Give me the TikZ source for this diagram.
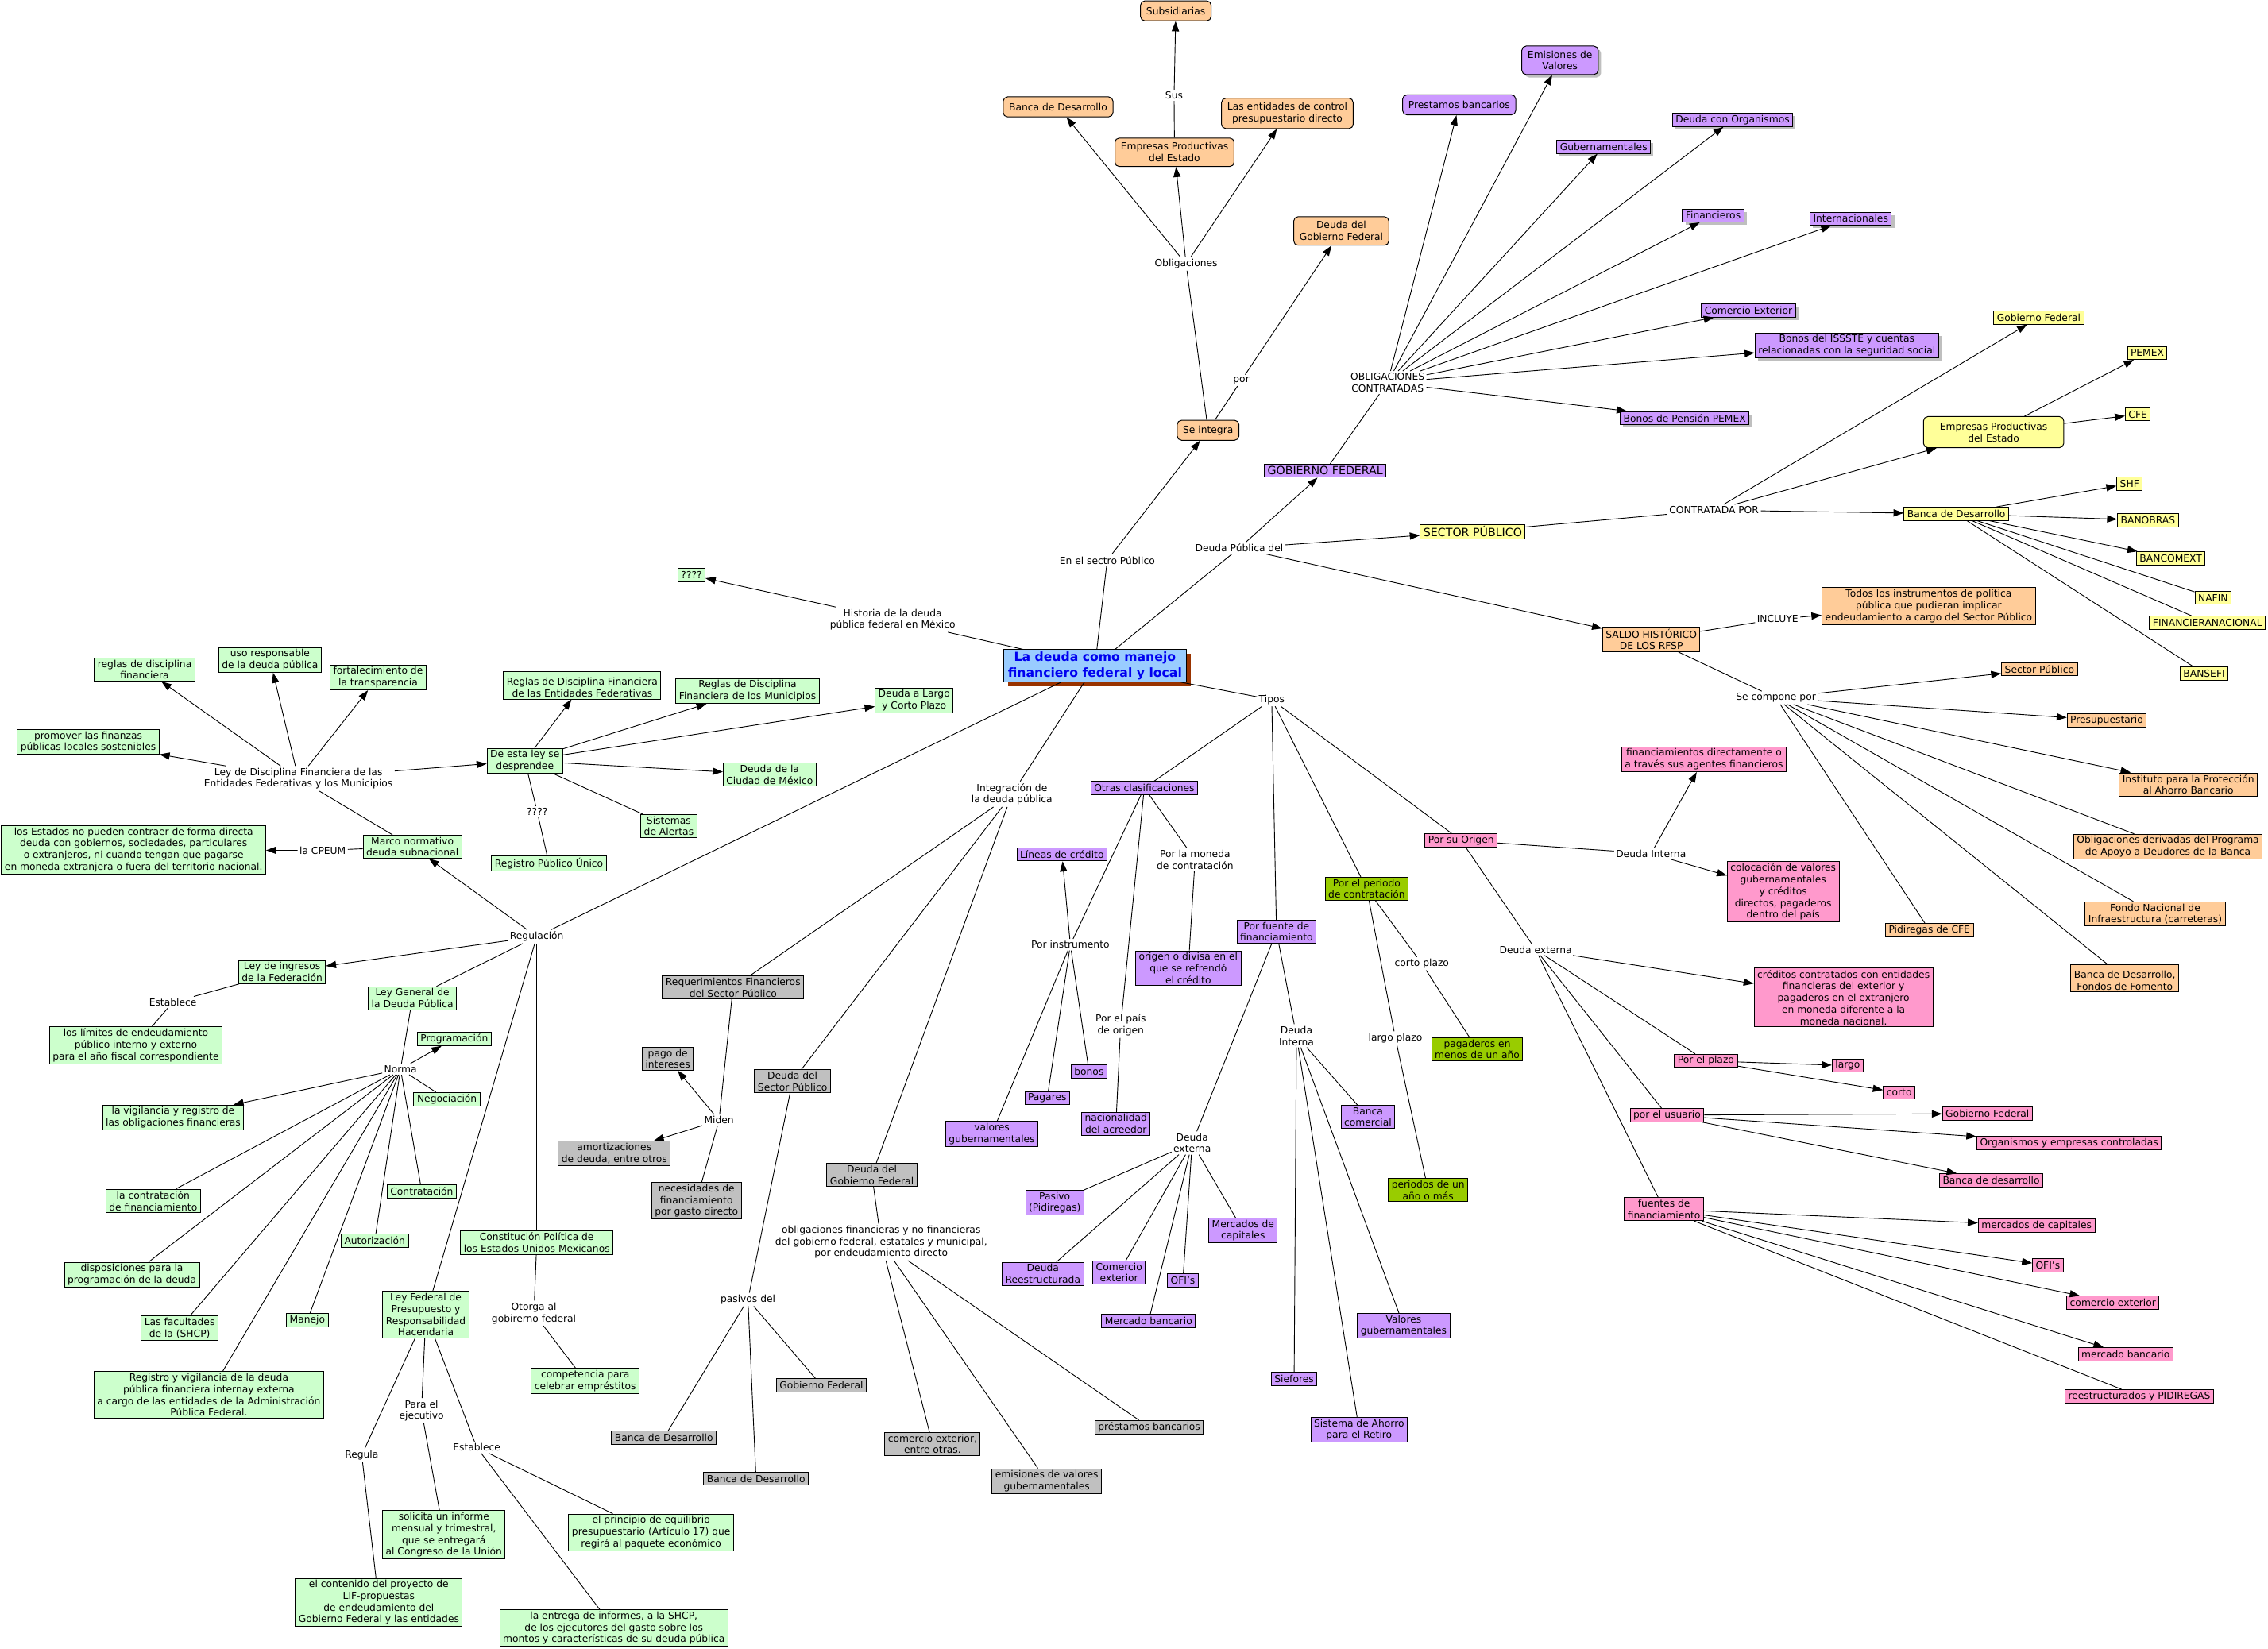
\documentclass[tikz,border=0pt]{standalone}
\usepackage{fontspec}
\setmainfont{DejaVu Sans}
\usetikzlibrary{arrows.meta,shadows}
\definecolor{corange}{RGB}{255,204,153}
\definecolor{cpurple}{RGB}{204,153,255}
\definecolor{cgreen}{RGB}{204,255,204}
\definecolor{cyellow}{RGB}{255,255,153}
\definecolor{cpink}{RGB}{255,153,204}
\definecolor{cgray}{RGB}{192,192,192}
\definecolor{colive}{RGB}{153,204,0}
\definecolor{cmain}{RGB}{153,204,255}
\definecolor{cblue}{RGB}{0,0,240}
\definecolor{cbrown}{RGB}{153,51,0}
\newcommand\myfs{\fontsize{6.75}{8.1}\selectfont}
\newcommand\mybig{\fontsize{7.8}{9.5}\selectfont}
\begin{document}
\begin{tikzpicture}[x=1pt,y=-1pt,
  box/.style={draw=black, line width=0.55pt, align=center, font=\myfs, inner xsep=2.2pt, inner ysep=1.3pt, minimum height=9pt},
  rbox/.style={box, rounded corners=3pt, inner xsep=4pt, inner ysep=3.2pt, minimum height=13.8pt},
  org/.style={box, fill=corange}, orr/.style={rbox, fill=corange},
  pur/.style={box, fill=cpurple}, purr/.style={rbox, fill=cpurple},
  gsh/.style={drop shadow={shadow xshift=2pt, shadow yshift=-2pt, fill=black!25, opacity=1}},
  grn/.style={box, fill=cgreen}, yel/.style={box, fill=cyellow},
  pnk/.style={box, fill=cpink}, gry/.style={box, fill=cgray}, olv/.style={box, fill=colive},
  lab/.style={align=center, font=\myfs, inner sep=1.2pt},
  ln/.style={line width=0.5pt},
  arr/.style={line width=0.5pt, -{Triangle[length=7pt,width=5pt]}}]
\useasboundingbox (0,0) rectangle (1568,1140);
\fill[white] (0,0) rectangle (1568,1140);

% ---------- top orange cluster ----------
\node[orr] (subs) at (812.9,7.5) {Subsidiarias};
\node[orr] (bancadT) at (731.5,73.9) {Banca de Desarrollo};
\node[orr] (empT) at (812,105.3) {Empresas Productivas\\del Estado};
\node[orr] (entT) at (890,78.4) {Las entidades de control\\presupuestario directo};
\node[orr] (dgfT) at (927.3,159.7) {Deuda del\\Gobierno Federal};
\node[orr] (seint) at (835.2,297.5) {Se integra};
\node[lab] (lSus) at (811.7,65.9) {Sus};
\node[lab] (lObl) at (820,182.5) {Obligaciones};
\node[lab] (lpor) at (858.2,263) {por};
\node[lab] (lSect) at (765.5,387.3) {En el sectro Público};
\node[lab] (lDPd) at (856.7,379) {Deuda Pública del};

% ---------- purple gobierno federal cluster ----------
\node[lab] (lOC) at (959.3,264.5) {OBLIGACIONES\\CONTRATADAS};
\node[purr,gsh] (emis) at (1078.5,41.7) {Emisiones de\\Valores};
\node[purr] (prest) at (1008.8,72.5) {Prestamos bancarios};
\node[pur,gsh] (gubs) at (1108.7,101.6) {Gubernamentales};
\node[pur,gsh] (dorg) at (1197.8,82.9) {Deuda con Organismos};
\node[pur,gsh] (fins) at (1184.4,149) {Financieros};
\node[pur,gsh] (ints) at (1279.5,151.2) {Internacionales};
\node[pur,gsh] (comx) at (1208.8,214.7) {Comercio Exterior};
\node[pur,gsh] (issste) at (1276.8,238.8) {Bonos del ISSSTE y cuentas\\relacionadas con la seguridad social};
\node[pur,gsh] (pemexb) at (1164.7,289) {Bonos de Pensión PEMEX};
\node[pur,font=\mybig] (gobfed) at (916.2,325.5) {GOBIERNO FEDERAL};

% ---------- yellow sector publico ----------
\node[yel,font=\mybig] (secpub) at (1018.2,367.6) {SECTOR PÚBLICO};
\node[lab] (lCP) at (1185,352.7) {CONTRATADA POR};
\node[yel] (ygf) at (1409.5,219.6) {Gobierno Federal};
\node[rbox,fill=cyellow,minimum width=97pt,minimum height=21.5pt] (yemp) at (1378.3,298.8) {Empresas Productivas\\del Estado};
\node[yel] (pemex) at (1484.5,244) {PEMEX};
\node[yel] (cfe) at (1478,286.5) {CFE};
\node[yel] (ybd) at (1352.5,355.3) {Banca de Desarrollo};
\node[yel] (shf) at (1472.3,334.4) {SHF};
\node[yel] (banobras) at (1485,359.7) {BANOBRAS};
\node[yel] (bancomext) at (1500.8,386) {BANCOMEXT};
\node[yel] (nafin) at (1530,413.4) {NAFIN};
\node[yel, anchor=east] (finan) at (1566.4,430.5) {FINANCIERANACIONAL};
\node[yel] (bansefi) at (1523.8,465.7) {BANSEFI};

% ---------- saldo historico ----------
\node[org] (saldo) at (1141.6,442) {SALDO HISTÓRICO\\DE LOS RFSP};
\node[org] (todos) at (1333.4,419) {Todos los instrumentos de política\\pública que pudieran implicar\\endeudamiento a cargo del Sector Público};
\node[lab] (lINC) at (1229,428) {INCLUYE};
\node[lab] (lSCP) at (1227.8,482.5) {Se compone por};
\node[org] (osp) at (1410,462.8) {Sector Público};
\node[org] (opres) at (1456.5,498) {Presupuestario};
\node[org] (oipab) at (1512.9,542.5) {Instituto para la Protección\\al Ahorro Bancario};
\node[org] (oobl) at (1498.8,585.4) {Obligaciones derivadas del Programa\\de Apoyo a Deudores de la Banca};
\node[org] (ofon) at (1490,631.9) {Fondo Nacional de\\Infraestructura (carreteras)};
\node[org] (obd) at (1469,676.4) {~\\Banca de Desarrollo,\\Fondos de Fomento};
\node[org] (opid) at (1333.9,643) {Pidiregas de CFE};

% ---------- main ----------
\node[box, fill=cmain, text=cblue, font=\fontsize{8.6}{10.6}\selectfont\bfseries, inner xsep=3pt, inner ysep=1.6pt,
  drop shadow={shadow xshift=3pt, shadow yshift=-3pt, fill=cbrown, opacity=1}] (main) at (757,460.3) {La deuda como manejo\\financiero federal y local};

% ---------- historia ----------
\node[grn] (q4) at (478.1,397.7) {????};
\node[lab] (lHist) at (617.1,428.4) {Historia de la deuda\\pública federal en México};

% ---------- green regulation cluster ----------
\node[grn] (rdf) at (100,463) {reglas de disciplina\\financiera};
\node[grn] (uso) at (186.7,456.3) {uso responsable\\de la deuda pública};
\node[grn] (fort) at (261.4,468.4) {fortalecimiento de\\la transparencia};
\node[grn] (prom) at (61,513) {promover las finanzas\\públicas locales sostenibles};
\node[lab] (lLDF) at (206.3,538.3) {Ley de Disciplina Financiera de las\\Entidades Federativas y los Municipios};
\node[grn] (desp) at (362.9,526) {De esta ley se\\desprendee};
\node[grn] (rdef) at (402.5,473.9) {~\\Reglas de Disciplina Financiera\\de las Entidades Federativas};
\node[grn] (rdfm) at (516.8,477.7) {Reglas de Disciplina\\Financiera de los Municipios};
\node[grn] (dlcp) at (632,484.3) {Deuda a Largo\\y Corto Plazo};
\node[grn] (dcdmx) at (532.1,535.5) {Deuda de la\\Ciudad de México};
\node[grn] (salert) at (462.4,571.1) {Sistemas\\de Alertas};
\node[lab] (lq) at (371.4,561.3) {????};
\node[grn] (rpu) at (379.5,597) {Registro Público Único};
\node[grn, anchor=west] (estados) at (0.8,587.6) {los Estados no pueden contraer de forma directa\\deuda con gobiernos, sociedades, particulares\\o extranjeros, ni cuando tengan que pagarse\\en moneda extranjera o fuera del territorio nacional.};
\node[lab] (lCPEUM) at (223.1,588) {la CPEUM};
\node[grn] (marco) at (285.1,585.4) {Marco normativo\\deuda subnacional};
\node[lab] (lReg) at (371.1,647.6) {Regulación};
\node[grn] (ling) at (195,672.1) {Ley de ingresos\\de la Federación};
\node[lab] (lEst1) at (119.5,693) {Establece};
\node[grn] (limites) at (93.9,722.7) {los límites de endeudamiento\\público interno y externo\\para el año fiscal correspondiente};
\node[grn] (lgdp) at (285.1,690.2) {Ley General de\\la Deuda Pública};
\node[grn] (prog) at (314.1,718.2) {Programación};
\node[lab] (lNorma) at (276.9,739.2) {Norma};
\node[grn] (nego) at (309,760.1) {Negociación};
\node[grn] (vigil) at (119.7,772.7) {la vigilancia y registro de\\las obligaciones financieras};
\node[grn] (lcontr) at (105.9,830.4) {la contratación\\de financiamiento};
\node[grn] (contr) at (291.6,823.8) {Contratación};
\node[grn] (dispo) at (91.2,881.4) {disposiciones para la\\programación de la deuda};
\node[grn] (autor) at (259.1,857.9) {Autorización};
\node[grn] (const) at (371.1,859.1) {Constitución Política de\\los Estados Unidos Mexicanos};
\node[grn] (facul) at (124.2,918.2) {Las facultades\\de la (SHCP)};
\node[grn] (manejo) at (212.5,912.9) {Manejo};
\node[grn] (lfp) at (294.4,909) {Ley Federal de\\Presupuesto y\\Responsabilidad\\Hacendaria};
\node[lab] (lOtorga) at (369.1,908) {Otorga al\\gobirerno federal};
\node[grn] (compet) at (404.6,954.7) {competencia para\\celebrar empréstitos};
\node[grn] (regvig) at (144.4,964.5) {Registro y vigilancia de la deuda\\pública financiera internay externa\\a cargo de las entidades de la Administración\\Pública Federal.};
\node[lab] (lPara) at (291.4,975.4) {Para el\\ejecutivo};
\node[lab] (lRegula) at (250.1,1006.1) {Regula};
\node[lab] (lEst2) at (329.6,1000.8) {Establece};
\node[grn] (solic) at (306.9,1061.3) {solicita un informe\\mensual y trimestral,\\que se entregará\\al Congreso de la Unión};
\node[grn] (conten) at (261.9,1108) {el contenido del proyecto de\\LIF-propuestas\\de endeudamiento del\\Gobierno Federal y las entidades};
\node[grn] (princ) at (450.2,1059.5) {el principio de equilibrio\\presupuestario (Artículo 17) que\\regirá al paquete económico};
\node[grn] (entrega) at (424.4,1125.7) {la entrega de informes, a la SHCP,\\de los ejecutores del gasto sobre los\\montos y características de su deuda pública};

% ---------- gray integration cluster ----------
\node[lab] (lInteg) at (699.6,549.1) {Integración de\\la deuda pública};
\node[gry] (rfsp) at (506.8,682.7) {Requerimientos Financieros\\del Sector Público};
\node[gry] (pagoi) at (461.7,732) {pago de\\intereses};
\node[gry] (dsp) at (547.9,747.5) {Deuda del\\Sector Público};
\node[lab] (lMiden) at (497.1,774.6) {Miden};
\node[gry] (amort) at (424.7,797.4) {amortizaciones\\de deuda, entre otros};
\node[gry] (neces) at (481.5,830.3) {necesidades de\\financiamiento\\por gasto directo};
\node[gry] (dgfg) at (602.8,812.4) {Deuda del\\Gobierno Federal};
\node[lab] (lObF) at (609.2,858.8) {obligaciones financieras y no financieras\\del gobierno federal, estatales y municipal,\\por endeudamiento directo};
\node[lab] (lPas) at (517.1,898.5) {pasivos del};
\node[gry] (ggf) at (567.8,957.8) {Gobierno Federal};
\node[gry] (gbd1) at (459,994.1) {Banca de Desarrollo};
\node[gry] (gbd2) at (522.7,1022.5) {Banca de Desarrollo};
\node[gry] (gcomx) at (644.7,998.4) {comercio exterior,\\entre otras.};
\node[gry] (gemis) at (723.7,1024.1) {emisiones de valores\\gubernamentales};
\node[gry] (gprest) at (794.5,986.8) {préstamos bancarios};

% ---------- tipos ----------
\node[lab] (lTipos) at (879.2,483.7) {Tipos};
\node[pur] (otras) at (791.1,544.8) {Otras clasificaciones};
\node[lab] (lPM) at (826.2,594.3) {Por la moneda\\de contratación};
\node[pur] (origen) at (821.5,669.5) {origen o divisa en el\\que se refrendó\\el crédito};
\node[pur] (lineas) at (734.2,590.8) {Líneas de crédito};
\node[lab] (lPI) at (740,653.2) {Por instrumento};
\node[lab] (lPP) at (774.8,708.8) {Por el país\\de origen};
\node[pur] (bonos) at (752.9,740.8) {bonos};
\node[pur] (pagares) at (724,759.3) {Pagares};
\node[pur] (valg) at (685.7,784) {valores\\gubernamentales};
\node[pur] (nacio) at (771.5,777) {nacionalidad\\del acreedor};
\node[pur] (pfuente) at (882.5,644.2) {Por fuente de\\financiamiento};
\node[lab] (lDIm) at (896.3,716.2) {Deuda\\Interna};
\node[lab] (lDEm) at (824.2,790.3) {Deuda\\externa};
\node[pur] (pasivo) at (729.2,831.5) {Pasivo\\(Pidiregas)};
\node[pur] (dreest) at (721,880.8) {Deuda\\Reestructurada};
\node[pur] (pcomx) at (773.7,879.8) {Comercio\\exterior};
\node[pur] (ofis) at (817.8,885.3) {OFI’s};
\node[pur] (mcap) at (859.4,850.8) {Mercados de\\capitales};
\node[pur] (mban) at (794.1,913.4) {Mercado bancario};
\node[pur] (bcom) at (945.7,772.2) {Banca\\comercial};
\node[pur] (valG) at (970.4,916.7) {Valores\\gubernamentales};
\node[pur] (sief) at (894.7,953.4) {Siefores};
\node[pur] (sar) at (939.6,988.6) {Sistema de Ahorro\\para el Retiro};
\node[olv] (pper) at (944.9,614.5) {Por el periodo\\de contratación};
\node[lab] (lcp) at (983,666.3) {corto plazo};
\node[lab] (llp) at (964.7,717.7) {largo plazo};
\node[olv] (pagad) at (1021.3,725.5) {pagaderos en\\menos de un año};
\node[olv] (perio) at (987.3,822.8) {periodos de un\\año o más};

% ---------- pink origen ----------
\node[pnk] (origenP) at (1010.1,581.1) {Por su Origen};
\node[lab] (lDIr) at (1141.4,590.2) {Deuda Interna};
\node[lab] (lDEr) at (1061.7,656.6) {Deuda externa};
\node[pnk] (finan2) at (1178,525) {financiamientos directamente o\\a través sus agentes financieros};
\node[pnk] (coloc) at (1232.8,616.6) {colocación de valores\\gubernamentales\\y créditos\\directos, pagaderos\\dentro del país};
\node[pnk] (creds) at (1274.5,689.7) {créditos contratados con entidades\\financieras del exterior y\\pagaderos en el extranjero\\en moneda diferente a la\\moneda nacional.};
\node[pnk] (pplazo) at (1179.4,733.5) {Por el plazo};
\node[pnk] (largo) at (1277.4,736.8) {largo};
\node[pnk] (corto) at (1313,755.5) {corto};
\node[pnk] (pusu) at (1152.5,771) {por el usuario};
\node[pnk] (pgf) at (1374,770) {Gobierno Federal};
\node[pnk] (porg) at (1430.5,790.3) {Organismos y empresas controladas};
\node[pnk] (pbd) at (1376.6,816.1) {Banca de desarrollo};
\node[pnk] (pfuen) at (1150.4,836) {fuentes de\\financiamiento};
\node[pnk] (pmc) at (1408,847.3) {mercados de capitales};
\node[pnk] (pofi) at (1415.8,874.9) {OFI’s};
\node[pnk] (pce) at (1460.8,900.7) {comercio exterior};
\node[pnk] (pmb) at (1469.5,936.3) {mercado bancario};
\node[pnk] (preest) at (1479,965.4) {reestructurados y PIDIREGAS};

% ================= connectors =================
\draw[ln] (main) -- (lSect); \draw[arr] (lSect) -- (seint);
\draw[ln] (seint) -- (lObl);
\draw[arr] (lObl) -- (bancadT); \draw[arr] (lObl) -- (empT); \draw[arr] (lObl) -- (entT);
\draw[ln] (empT) -- (lSus); \draw[arr] (lSus) -- (subs);
\draw[ln] (seint) -- (lpor); \draw[arr] (lpor) -- (dgfT);
\draw[ln] (main) -- (lDPd);
\draw[arr] (lDPd) -- (gobfed); \draw[arr] (lDPd) -- (secpub); \draw[arr] (lDPd) -- (saldo);
\draw[ln] (gobfed) -- (lOC);
\foreach \t in {prest,emis,gubs,dorg,fins,ints,comx,issste,pemexb} \draw[arr] (lOC) -- (\t);
\draw[ln] (secpub) -- (lCP);
\foreach \t in {ygf,yemp,ybd} \draw[arr] (lCP) -- (\t);
\draw[arr] (yemp) -- (pemex); \draw[arr] (yemp) -- (cfe);
\foreach \t in {shf,banobras,bancomext} \draw[arr] (ybd) -- (\t);
\foreach \t in {nafin,finan,bansefi} \draw[ln] (ybd) -- (\t);
\draw[ln] (saldo) -- (lINC); \draw[arr] (lINC) -- (todos);
\draw[ln] (saldo) -- (lSCP);
\foreach \t in {osp,opres,oipab} \draw[arr] (lSCP) -- (\t);
\foreach \t in {oobl,ofon,obd,opid} \draw[ln] (lSCP) -- (\t);

\draw[ln] (main) -- (lHist); \draw[arr] (lHist) -- (q4);
\draw[ln] (main) -- (lReg);
\draw[arr] (lReg) -- (marco); \draw[arr] (lReg) -- (ling);
\foreach \t in {lgdp,lfp,const} \draw[ln] (lReg) -- (\t);
\draw[ln] (marco) -- (lLDF);
\foreach \t in {rdf,uso,fort,prom,desp} \draw[arr] (lLDF) -- (\t);
\draw[ln] (marco) -- (lCPEUM); \draw[arr] (lCPEUM) -- (estados);
\foreach \t in {rdef,rdfm,dlcp,dcdmx} \draw[arr] (desp) -- (\t);
\draw[ln] (desp) -- (salert); \draw[ln] (desp) -- (lq); \draw[ln] (lq) -- (rpu);
\draw[ln] (ling) -- (lEst1); \draw[ln] (lEst1) -- (limites);
\draw[ln] (lgdp) -- (lNorma);
\draw[arr] (lNorma) -- (prog); \draw[arr] (lNorma) -- (vigil);
\foreach \t in {nego,lcontr,contr,dispo,autor,facul,manejo,regvig} \draw[ln] (lNorma) -- (\t);
\draw[ln] (const) -- (lOtorga); \draw[ln] (lOtorga) -- (compet);
\draw[ln] (lfp) -- (lRegula); \draw[ln] (lRegula) -- (conten);
\draw[ln] (lfp) -- (lPara); \draw[ln] (lPara) -- (solic);
\draw[ln] (lfp) -- (lEst2); \draw[ln] (lEst2) -- (princ); \draw[ln] (lEst2) -- (entrega);

\draw[ln] (main) -- (lInteg);
\foreach \t in {rfsp,dsp,dgfg} \draw[ln] (lInteg) -- (\t);
\draw[ln] (rfsp) -- (lMiden);
\draw[arr] (lMiden) -- (pagoi); \draw[arr] (lMiden) -- (amort); \draw[ln] (lMiden) -- (neces);
\draw[ln] (dsp) -- (lPas);
\foreach \t in {gbd1,gbd2,ggf} \draw[ln] (lPas) -- (\t);
\draw[ln] (dgfg) -- (lObF);
\foreach \t in {gcomx,gemis,gprest} \draw[ln] (lObF) -- (\t);

\draw[ln] (main) -- (lTipos);
\foreach \t in {otras,pfuente,pper,origenP} \draw[ln] (lTipos) -- (\t);
\foreach \t in {lPI,lPM,lPP} \draw[ln] (otras) -- (\t);
\draw[arr] (lPI) -- (lineas);
\foreach \t in {bonos,pagares,valg} \draw[ln] (lPI) -- (\t);
\draw[ln] (lPM) -- (origen); \draw[ln] (lPP) -- (nacio);
\draw[ln] (pfuente) -- (lDIm); \draw[ln] (pfuente) -- (lDEm);
\foreach \t in {pasivo,dreest,pcomx,ofis,mcap,mban} \draw[ln] (lDEm) -- (\t);
\foreach \t in {bcom,valG,sief,sar} \draw[ln] (lDIm) -- (\t);
\draw[ln] (pper) -- (lcp); \draw[ln] (lcp) -- (pagad);
\draw[ln] (pper) -- (llp); \draw[ln] (llp) -- (perio);
\draw[ln] (origenP) -- (lDIr);
\draw[arr] (lDIr) -- (finan2); \draw[arr] (lDIr) -- (coloc);
\draw[ln] (origenP) -- (lDEr);
\draw[arr] (lDEr) -- (creds);
\foreach \t in {pplazo,pusu,pfuen} \draw[ln] (lDEr) -- (\t);
\draw[arr] (pplazo) -- (largo); \draw[arr] (pplazo) -- (corto);
\foreach \t in {pgf,porg,pbd} \draw[arr] (pusu) -- (\t);
\foreach \t in {pmc,pofi,pce,pmb} \draw[arr] (pfuen) -- (\t);
\draw[ln] (pfuen) -- (preest);
\end{tikzpicture}
\end{document}
